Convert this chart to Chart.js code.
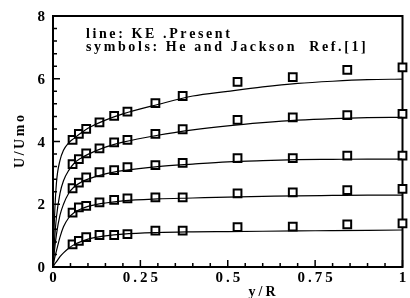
<!DOCTYPE html>
<html>
<head>
<meta charset="utf-8">
<script src="https://cdn.jsdelivr.net/npm/chart.js@4/dist/chart.umd.min.js"></script>
<style>
  html, body { margin: 0; padding: 0; background: #fff; }
  canvas { display: block; }
</style>
</head>
<body>
<canvas id="chart" width="410" height="298"></canvas>
<script>
// measured points (He and Jackson), same y/R for every profile
const symbolX = [0.056, 0.074, 0.095, 0.133, 0.175, 0.213, 0.293, 0.371, 0.528, 0.686, 0.842, 1.0];
const symbols1 = [0.72, 0.83, 0.95, 1.02, 1.02, 1.05, 1.16, 1.16, 1.27, 1.29, 1.36, 1.39];
const symbols2 = [1.73, 1.90, 1.95, 2.06, 2.14, 2.19, 2.22, 2.22, 2.35, 2.38, 2.45, 2.49];
const symbols3 = [2.51, 2.69, 2.86, 3.02, 3.09, 3.18, 3.25, 3.32, 3.47, 3.47, 3.55, 3.55];
const symbols4 = [3.28, 3.44, 3.62, 3.78, 3.97, 4.05, 4.24, 4.39, 4.69, 4.77, 4.84, 4.88];
const symbols5 = [4.05, 4.24, 4.40, 4.61, 4.82, 4.95, 5.22, 5.45, 5.90, 6.05, 6.28, 6.36];

// computed profiles (KE model)
const lineX = [0, 0.004, 0.01, 0.02, 0.03, 0.045, 0.06, 0.08, 0.1, 0.15, 0.2, 0.3, 0.4, 0.5, 0.6, 0.7, 0.8, 0.9, 1.0];
const line1 = [0, 0.08, 0.17, 0.33, 0.45, 0.60, 0.71, 0.81, 0.89, 0.99, 1.05, 1.10, 1.12, 1.13, 1.14, 1.15, 1.16, 1.17, 1.18];
const line2 = [0, 0.25, 0.52, 0.95, 1.28, 1.57, 1.73, 1.85, 1.93, 2.04, 2.11, 2.17, 2.20, 2.23, 2.25, 2.27, 2.28, 2.29, 2.29];
const line3 = [0, 0.50, 1.05, 1.65, 2.00, 2.35, 2.55, 2.70, 2.80, 2.97, 3.07, 3.20, 3.28, 3.35, 3.39, 3.42, 3.43, 3.44, 3.44];
const line4 = [0, 0.80, 1.60, 2.35, 2.75, 3.08, 3.30, 3.47, 3.59, 3.82, 3.98, 4.20, 4.37, 4.50, 4.60, 4.68, 4.73, 4.76, 4.77];
const line5 = [0, 1.50, 2.70, 3.40, 3.72, 3.96, 4.10, 4.27, 4.42, 4.68, 4.88, 5.18, 5.45, 5.60, 5.74, 5.85, 5.92, 5.97, 5.99];

const xTicks = [0, 0.25, 0.5, 0.75, 1];
const xTickLabels = ['0', '0.25', '0.5', '0.75', '1'];
const yTicks = [0, 2, 4, 6, 8];
const yTickLabels = ['0', '2', '4', '6', '8'];
const xTitle = 'y/R';
const yTitle = 'U/Umo';
const noteLines = ['line: KE .Present', 'symbols: He and Jackson  Ref.[1]'];

const SERIF = '"Liberation Serif", "Times New Roman", serif';

function toPoints(xs, ys) {
    return xs.map((x, i) => ({ x: x, y: ys[i] }));
}

// draw text char by char so the letter spacing stays even
function spacedText(ctx, text, x, y, spacing, align) {
    const widths = [...text].map(c => ctx.measureText(c).width);
    const total = widths.reduce((a, b) => a + b, 0) + spacing * (widths.length - 1);
    let cx = x;
    if (align === 'center') cx = x - total / 2;
    if (align === 'right') cx = x - total;
    ctx.textAlign = 'left';
    [...text].forEach((c, i) => {
        ctx.fillText(c, cx, y);
        cx += widths[i] + spacing;
    });
}

const lineSets = [line1, line2, line3, line4, line5].map(ys => ({
    type: 'line',
    data: toPoints(lineX, ys),
    borderColor: '#000',
    borderWidth: 1.2,
    pointRadius: 0,
    fill: false,
    cubicInterpolationMode: 'monotone'
}));

const symbolSets = [symbols1, symbols2, symbols3, symbols4, symbols5].map(ys => ({
    type: 'scatter',
    data: toPoints(symbolX, ys),
    pointStyle: 'rect',
    pointRadius: 5.5,
    pointBorderWidth: 2,
    pointBorderColor: '#000',
    pointBackgroundColor: '#fff',
    clip: false
}));

const framePlugin = {
    id: 'frame',
    beforeDatasetsDraw(chart) {
        const ctx = chart.ctx;
        const a = chart.chartArea;
        const xs = chart.scales.x;
        const ys = chart.scales.y;
        ctx.save();
        ctx.strokeStyle = '#000';
        ctx.lineWidth = 2;
        ctx.strokeRect(a.left, a.top, a.right - a.left, a.bottom - a.top);

        // inside ticks, minor every 0.05 on x and 0.4 on y
        ctx.lineWidth = 1.5;
        ctx.beginPath();
        for (let i = 0; i <= 20; i++) {
            const px = xs.getPixelForValue(i * 0.05);
            const len = i % 5 === 0 ? 7 : 4;
            ctx.moveTo(px, a.bottom);
            ctx.lineTo(px, a.bottom - len);
        }
        for (let i = 0; i <= 20; i++) {
            const py = ys.getPixelForValue(i * 0.4);
            const len = i % 5 === 0 ? 7 : 4;
            ctx.moveTo(a.left, py);
            ctx.lineTo(a.left + len, py);
        }
        ctx.stroke();
        ctx.restore();
    },
    afterDraw(chart) {
        const ctx = chart.ctx;
        const a = chart.chartArea;
        const xs = chart.scales.x;
        const ys = chart.scales.y;
        ctx.save();
        ctx.fillStyle = '#000';
        ctx.textBaseline = 'alphabetic';

        ctx.font = 'bold 15px ' + SERIF;
        xTicks.forEach((v, i) => {
            spacedText(ctx, xTickLabels[i], xs.getPixelForValue(v), a.bottom + 15, 3, 'center');
        });
        yTicks.forEach((v, i) => {
            spacedText(ctx, yTickLabels[i], a.left - 8, ys.getPixelForValue(v) + 5, 0, 'right');
        });

        ctx.font = 'bold 14px ' + SERIF;
        spacedText(ctx, xTitle, 262, 296, 3, 'center');

        ctx.save();
        ctx.translate(24, (a.top + a.bottom) / 2);
        ctx.rotate(-Math.PI / 2);
        spacedText(ctx, yTitle, 0, 0, 2.5, 'center');
        ctx.restore();

        ctx.font = 'bold 14px ' + SERIF;
        spacedText(ctx, noteLines[0], 86, 38, 2.6, 'left');
        spacedText(ctx, noteLines[1], 86, 51, 2.6, 'left');
        ctx.restore();
    }
};

new Chart(document.getElementById('chart'), {
    type: 'scatter',
    data: { datasets: lineSets.concat(symbolSets) },
    options: {
        responsive: false,
        animation: false,
        events: [],
        layout: { padding: { left: 0, top: 16, right: 3, bottom: 0 } },
        plugins: { legend: { display: false }, tooltip: { enabled: false } },
        scales: {
            x: {
                type: 'linear', min: 0, max: 1,
                grid: { display: false }, border: { display: false },
                ticks: { display: false },
                afterBuildTicks: s => { s.ticks = xTicks.map(v => ({ value: v })); },
                afterFit: s => { s.height = 31; }
            },
            y: {
                type: 'linear', min: 0, max: 8,
                grid: { display: false }, border: { display: false },
                ticks: { display: false },
                afterBuildTicks: s => { s.ticks = yTicks.map(v => ({ value: v })); },
                afterFit: s => { s.width = 53; }
            }
        }
    },
    plugins: [framePlugin]
});
</script>
</body>
</html>
